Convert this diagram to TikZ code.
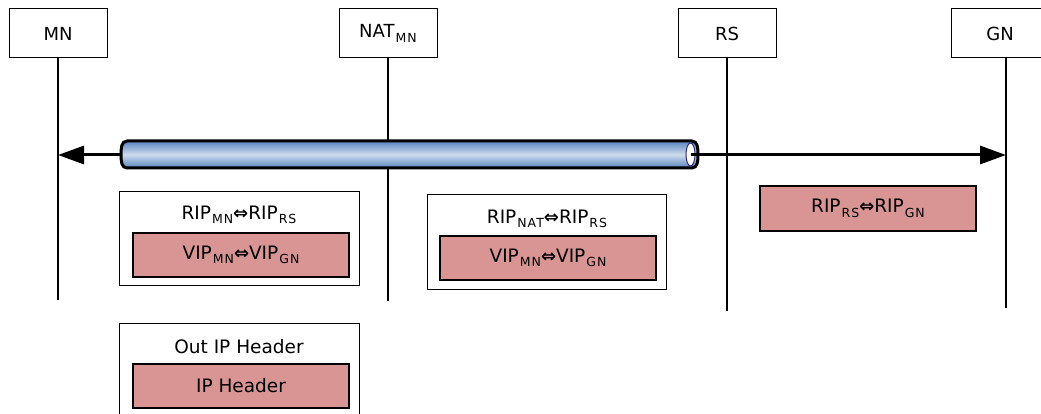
\documentclass[tikz,border=0pt]{standalone}
\usepackage{fontspec}
\setmainfont{DejaVu Sans}
\newfontfamily\symfam{DejaVu Sans}
\usetikzlibrary{arrows.meta,shadows}
\definecolor{pinkfill}{RGB}{217,149,148}
\definecolor{tubedark}{RGB}{88,132,190}
\definecolor{tubelight}{RGB}{205,219,237}
\definecolor{navy}{RGB}{40,40,130}
\newcommand{\lsub}[1]{\kern1pt\raisebox{-0.45ex}{\fontsize{12.5}{12.5}\selectfont\addfontfeature{LetterSpace=8}#1}}
\newcommand{\dar}{{\symfam\bfseries\fontsize{18}{18}\selectfont ⇔}}
\begin{document}
\begin{tikzpicture}[x=1pt,y=-1pt,
  actor/.style={draw, line width=1pt, fill=white, minimum width=98pt, minimum height=49pt, inner sep=0pt, font=\fontsize{18}{20}\selectfont},
  outerbox/.style={draw, line width=1pt, fill=white, inner sep=0pt, drop shadow={shadow xshift=1.2pt, shadow yshift=-1.2pt, fill=gray, opacity=0.7}},
  pinkbox/.style={draw, line width=1.3pt, fill=pinkfill, inner sep=0pt, minimum width=216pt, minimum height=44pt, font=\fontsize{18.5}{20}\selectfont},
  lbl/.style={inner sep=0pt, font=\fontsize{18.5}{20}\selectfont},
  life/.style={line width=1.1pt},
  msg/.style={line width=3pt, -{Triangle[length=26pt,width=18pt]}}
]
\useasboundingbox (0,0) rectangle (1041,414);

% actors
\node[actor] (MN) at (58,33.5) {MN};
\node[actor] (NAT) at (388,33.5) {NAT\lsub{MN}};
\node[actor] (RS) at (727,33.5) {RS};
\node[actor] (GN) at (1000,33.5) {GN};

% lifeline end points
\coordinate (MNe) at (58,300);
\coordinate (NATe) at (388,301);
\coordinate (RSe) at (727,311);
\coordinate (GNs) at (1006,58);
\coordinate (GNe) at (1006,308);

\draw[life] (MN.south) -- (MNe);
\draw[life] (NAT.south) -- (NATe);
\draw[life] (RS.south) -- (RSe);
\draw[life] (GNs) -- (GNe);

% arrow points
\coordinate (MNa) at (58,155);
\coordinate (GNa) at (1006,155);
\coordinate (tubeL) at (124,155);
\coordinate (tubeR) at (691,155);

\draw[msg] (tubeL) -- (MNa);

% tube
\shade[top color=tubedark, bottom color=tubedark, middle color=tubelight]
  (692,141) -- (127,141) to[out=180,in=90] (121,154.5) to[out=-90,in=180] (127,168)
  -- (692,168) to[out=0,in=-90] (698,154.5) to[out=90,in=0] cycle;
\draw[line width=3pt, line join=round]
  (692,141) -- (127,141) to[out=180,in=90] (121,154.5) to[out=-90,in=180] (127,168)
  -- (692,168) to[out=0,in=-90] (698,154.5) to[out=90,in=0] cycle;
\draw[navy, line width=1pt, fill=white] (690.5,154.5) ellipse [x radius=4.5, y radius=11.5];

\draw[msg] (tubeR) -- (GNa);

% box 1
\node[outerbox, minimum width=240pt, minimum height=93pt] (B1) at (239,238.5) {};
\node[lbl] (B1t) at (239,215) {RIP\lsub{MN}\dar RIP\lsub{RS}};
\node[pinkbox] (B1p) at (241,255) {VIP\lsub{MN}\dar VIP\lsub{GN}};

% box 2
\node[outerbox, minimum width=239pt, minimum height=94pt] (B2) at (546.5,242) {};
\node[lbl] (B2t) at (547,219) {RIP\lsub{NAT}\dar RIP\lsub{RS}};
\node[pinkbox] (B2p) at (548,258) {VIP\lsub{MN}\dar VIP\lsub{GN}};

% box 3
\node[pinkbox, minimum height=45pt] (B3) at (868,208.5) {RIP\lsub{RS}\dar RIP\lsub{GN}};

% box 4
\node[outerbox, minimum width=240pt, minimum height=97pt] (B4) at (239,371.5) {};
\node[lbl] (B4t) at (239,347) {Out IP Header};
\node[pinkbox] (B4p) at (241,386) {IP Header};
\end{tikzpicture}
\end{document}
